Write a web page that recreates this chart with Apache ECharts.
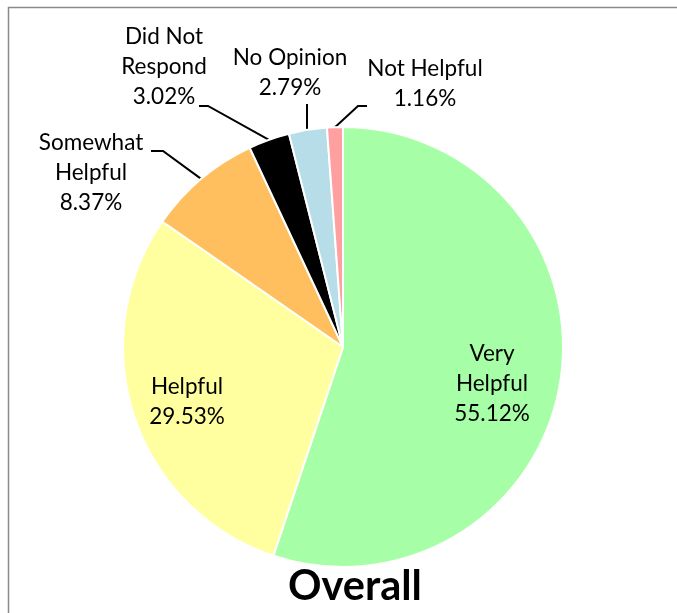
<!DOCTYPE html>
<html>
<head>
<meta charset="utf-8">
<script src="https://cdn.jsdelivr.net/npm/echarts@6/dist/echarts.min.js"></script>
<style>
html,body{margin:0;padding:0;background:#fff;}
#chart{width:677px;height:613px;}
</style>
</head>
<body>
<div id="chart"></div>
<script>
const categories = ['Very\nHelpful', 'Helpful', 'Somewhat\nHelpful', 'Did Not\nRespond', 'No Opinion', 'Not Helpful'];
const values = [55.12, 29.53, 8.37, 3.02, 2.79, 1.16];
const colors = ['#A6FFA6', '#FFFF9F', '#FFBF5F', '#000000', '#B7DDE8', '#FF9F9F'];
const titleText = 'Overall';

// label placement (style only)
const labelPos = [
  {x: 492, y: 384, inside: true},
  {x: 187, y: 402, inside: true},
  {x: 91, y: 173, bend: [163, 151], end: [151, 151]},
  {x: 164, y: 67, bend: [208, 106], end: [199, 106]},
  {x: 290, y: 73, bend: null, end: [307, 104]},
  {x: 425, y: 84, bend: [358, 106], end: [367, 106]}
];

const chart = echarts.init(document.getElementById('chart'));
const data = categories.map((c, i) => ({
  name: c,
  value: values[i],
  itemStyle: {color: colors[i]},
  labelLine: {show: !labelPos[i].inside}
}));

chart.setOption({
  animation: false,
  graphic: [{
    type: 'rect',
    shape: {x: 8.5, y: 7.5, width: 720, height: 700},
    style: {fill: 'none', stroke: '#8a8a8a', lineWidth: 1.5},
    silent: true
  }],
  title: {
    text: titleText,
    left: 350,
    top: 561,
    textAlign: 'center',
    textStyle: {fontFamily: 'Lato', fontWeight: 'bold', fontSize: 41.5, color: '#000'}
  },
  series: [{
    type: 'pie',
    center: [343, 347],
    radius: 220,
    startAngle: 90,
    clockwise: true,
    avoidLabelOverlap: false,
    itemStyle: {borderColor: '#fff', borderWidth: 2},
    label: {
      show: true,
      position: 'outside',
      fontFamily: 'Lato',
      fontSize: 22.5,
      lineHeight: 30,
      color: '#000',
      align: 'center',
      formatter: p => p.name + '\n' + p.value.toFixed(2) + '%'
    },
    labelLine: {show: true, lineStyle: {color: '#000', width: 2}},
    labelLayout: function (params) {
      const lp = labelPos[params.dataIndex];
      const out = {x: lp.x, y: lp.y, align: 'center', verticalAlign: 'middle'};
      if (!lp.inside && params.labelLinePoints) {
        const start = params.labelLinePoints[0];
        const pts = [start];
        if (lp.bend) pts.push(lp.bend); else pts.push([lp.end[0], (start[1] + lp.end[1]) / 2]);
        pts.push(lp.end);
        if (!lp.bend) { pts[0] = [lp.end[0], start[1]]; }
        out.labelLinePoints = pts;
      }
      return out;
    },
    data: data
  }]
});
</script>
</body>
</html>
